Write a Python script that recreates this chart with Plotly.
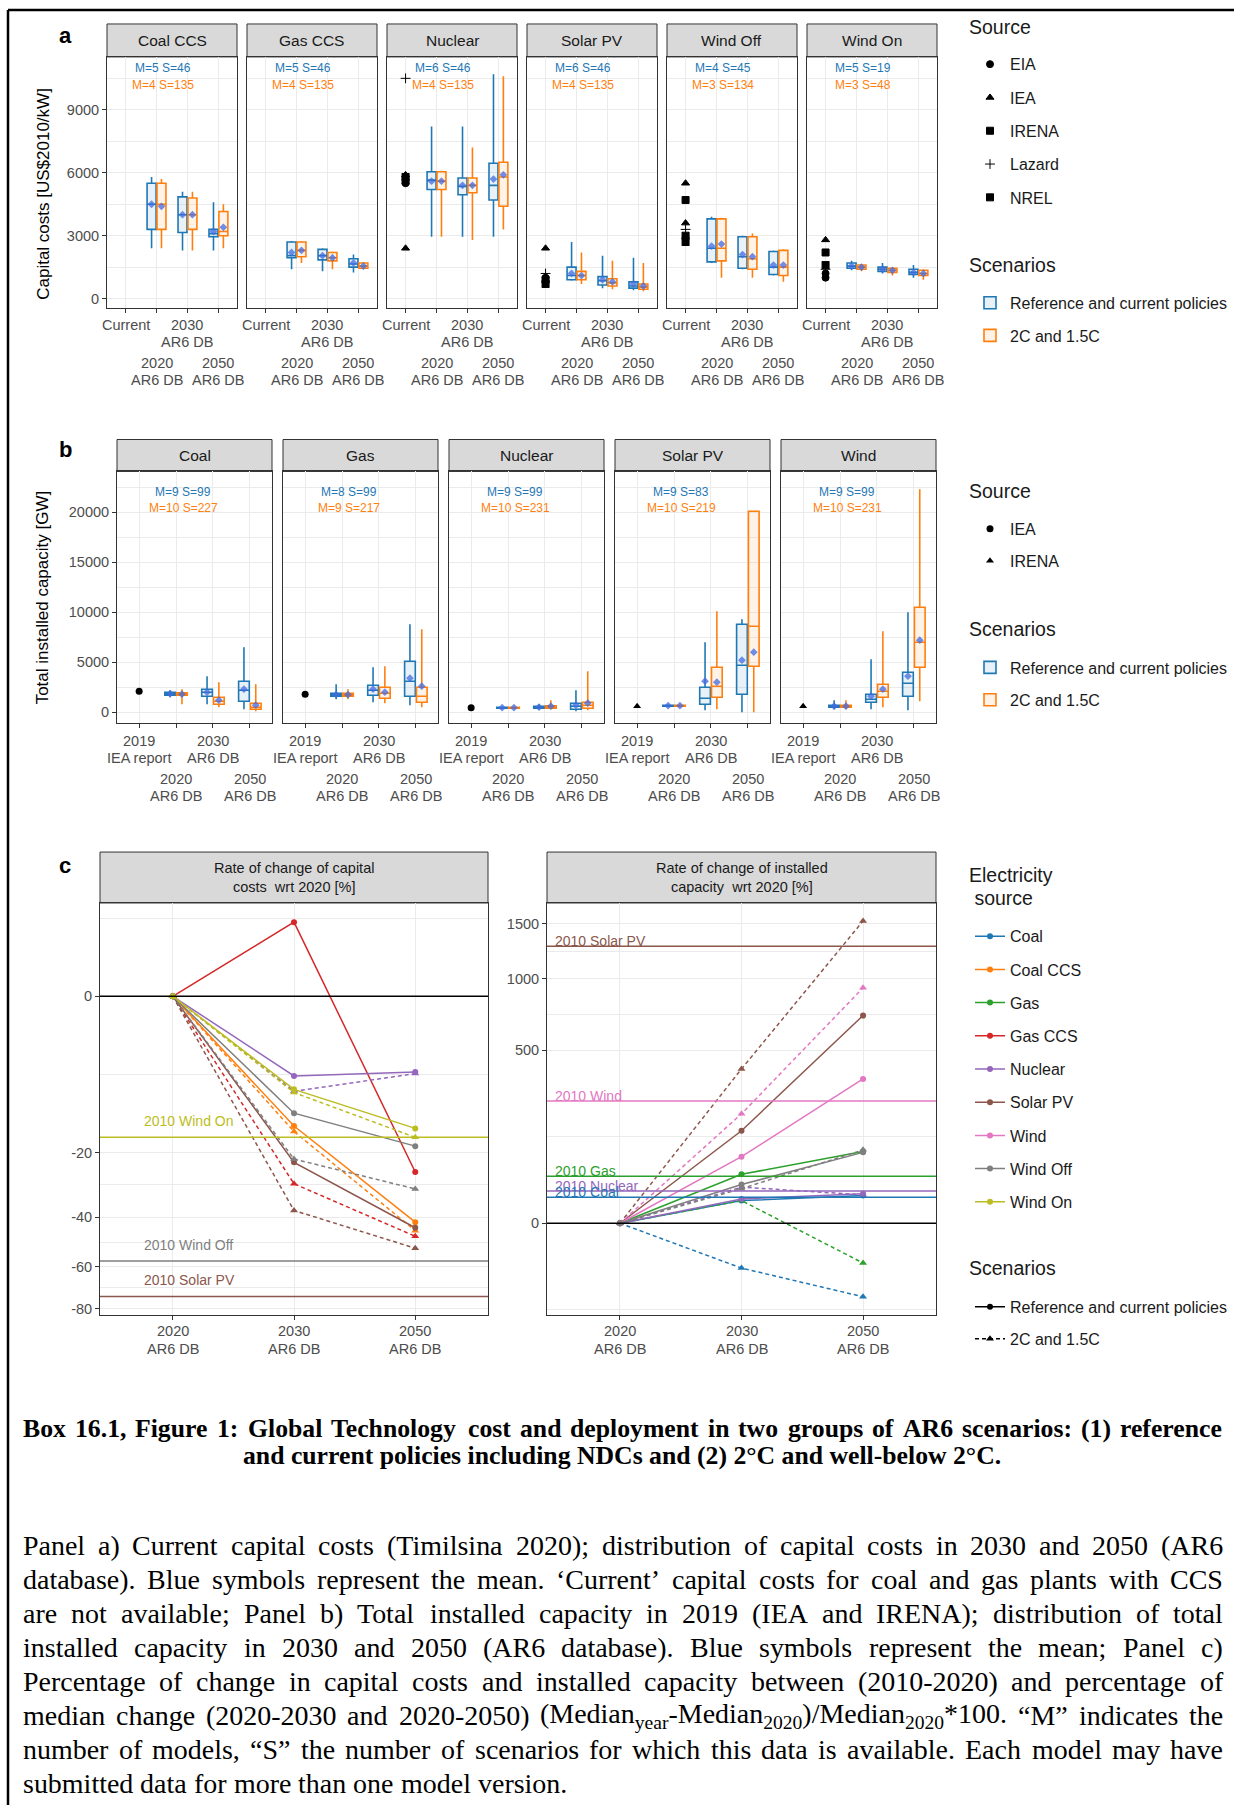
import math
import re
import plotly.graph_objects as go

W, H = 1234, 1807


def fx(p):
    return p / W


def fy(p):
    return 1 - p / H


FONT = "Liberation Sans, Arial, Helvetica, sans-serif"
SERIF = "Liberation Serif, Times New Roman, serif"
TICK_C = "#4D4D4D"
BORDER = "#333333"
GRID = "#EBEBEB"
STRIP = "#D9D9D9"
BLUE = "#1f77b4"
ORANGE = "#ff7f0e"
BLUE_FILL = "rgba(31,119,180,0.10)"
ORANGE_FILL = "rgba(255,127,14,0.10)"
MEAN_C = "#4169E1"

# ---------------------------------------------------------------- panel a data
a_techs = ["Coal CCS", "Gas CCS", "Nuclear", "Solar PV", "Wind Off", "Wind On"]
a_xlabels = ["Current", "2020\nAR6 DB", "2030\nAR6 DB", "2050\nAR6 DB"]
a_yticks = [0, 3000, 6000, 9000]
a_yminor = [1500, 4500, 7500, 10500]

a_ref_low = {"Coal CCS": [2400, 2300, 2300], "Gas CCS": [1400, 1300, 1250], "Nuclear": [2950, 2950, 2950],
             "Solar PV": [850, 500, 400], "Wind Off": [1700, 1400, 1100], "Wind On": [1350, 1200, 1000]}
a_ref_q1 = {"Coal CCS": [3300, 3150, 2950], "Gas CCS": [1950, 1850, 1500], "Nuclear": [5200, 4950, 4700],
            "Solar PV": [900, 650, 500], "Wind Off": [1750, 1450, 1150], "Wind On": [1450, 1300, 1150]}
a_ref_med = {"Coal CCS": [4500, 4000, 3100], "Gas CCS": [2050, 2050, 1650], "Nuclear": [5650, 5350, 5400],
             "Solar PV": [1100, 850, 600], "Wind Off": [2400, 2000, 1500], "Wind On": [1550, 1400, 1250]}
a_ref_q3 = {"Coal CCS": [5500, 4850, 3300], "Gas CCS": [2700, 2350, 1900], "Nuclear": [6050, 5750, 6450],
            "Solar PV": [1500, 1050, 800], "Wind Off": [3800, 2950, 2250], "Wind On": [1700, 1500, 1400]}
a_ref_high = {"Coal CCS": [5800, 5100, 4600], "Gas CCS": [2750, 2400, 2100], "Nuclear": [8200, 8200, 10700],
              "Solar PV": [2700, 2050, 1950], "Wind Off": [3900, 3000, 2300], "Wind On": [1800, 1700, 1600]}
a_ref_mean = {"Coal CCS": [4500, 4000, 3200], "Gas CCS": [2200, 2050, 1700], "Nuclear": [5600, 5400, 5700],
              "Solar PV": [1200, 900, 700], "Wind Off": [2500, 2100, 1600], "Wind On": [1550, 1400, 1250]}

a_pol_low = {"Coal CCS": [2400, 2300, 2400], "Gas CCS": [1700, 1400, 1400], "Nuclear": [2950, 2800, 3300],
             "Solar PV": [700, 450, 350], "Wind Off": [1000, 1000, 800], "Wind On": [1300, 1100, 900]}
a_pol_q1 = {"Coal CCS": [3300, 3300, 3000], "Gas CCS": [2000, 1800, 1450], "Nuclear": [5200, 5050, 4400],
            "Solar PV": [900, 600, 450], "Wind Off": [1800, 1400, 1100], "Wind On": [1400, 1250, 1100]}
a_pol_med = {"Coal CCS": [4500, 4000, 3200], "Gas CCS": [2300, 1950, 1550], "Nuclear": [5600, 5400, 5800],
             "Solar PV": [1100, 750, 550], "Wind Off": [2400, 1900, 1500], "Wind On": [1500, 1350, 1200]}
a_pol_q3 = {"Coal CCS": [5500, 4800, 4150], "Gas CCS": [2700, 2200, 1700], "Nuclear": [6050, 5750, 6500],
            "Solar PV": [1300, 950, 700], "Wind Off": [3800, 2950, 2300], "Wind On": [1600, 1450, 1350]}
a_pol_high = {"Coal CCS": [5700, 5100, 4500], "Gas CCS": [2750, 2250, 1750], "Nuclear": [6100, 7200, 10600],
              "Solar PV": [2200, 1800, 1700], "Wind Off": [3850, 3100, 2350], "Wind On": [1650, 1500, 1400]}
a_pol_mean = {"Coal CCS": [4400, 4000, 3400], "Gas CCS": [2300, 1950, 1550], "Nuclear": [5600, 5400, 5900],
              "Solar PV": [1100, 800, 600], "Wind Off": [2600, 2000, 1600], "Wind On": [1500, 1350, 1200]}

# 'Current' capital costs by source
a_sources = ["EIA", "IEA", "IRENA", "Lazard", "NREL"]
a_cur_EIA = {"Nuclear": [5500], "Solar PV": [1000, 800], "Wind Off": [2900], "Wind On": [1000, 1200]}
a_cur_IEA = {"Nuclear": [5900, 2400], "Solar PV": [2400], "Wind Off": [5500, 3600], "Wind On": [2800]}
a_cur_IRENA = {"Nuclear": [5600], "Solar PV": [900], "Wind Off": [4700], "Wind On": [2200]}
a_cur_Lazard = {"Nuclear": [10500], "Solar PV": [1200], "Wind Off": [3300], "Wind On": [1400]}
a_cur_NREL = {"Nuclear": [5800], "Solar PV": [700], "Wind Off": [2700, 3000], "Wind On": [1600]}
a_cur = {"EIA": a_cur_EIA, "IEA": a_cur_IEA, "IRENA": a_cur_IRENA, "Lazard": a_cur_Lazard, "NREL": a_cur_NREL}

a_ms_ref = ["M=5 S=46", "M=5 S=46", "M=6 S=46", "M=6 S=46", "M=4 S=45", "M=5 S=19"]
a_ms_pol = ["M=4 S=135", "M=4 S=135", "M=4 S=135", "M=4 S=135", "M=3 S=134", "M=3 S=48"]

# ---------------------------------------------------------------- panel b data
b_techs = ["Coal", "Gas", "Nuclear", "Solar PV", "Wind"]
b_xlabels = ["2019\nIEA report", "2020\nAR6 DB", "2030\nAR6 DB", "2050\nAR6 DB"]
b_yticks = [0, 5000, 10000, 15000, 20000]
b_yminor = [2500, 7500, 12500, 17500, 22500]
b_2019 = [2100, 1800, 450, 600, 600]
b_2019_source = ["IEA", "IEA", "IEA", "IRENA", "IRENA"]

b_ref_low = {"Coal": [1500, 800, 300], "Gas": [1300, 1000, 700], "Nuclear": [350, 300, 100],
             "Solar PV": [550, 200, 0], "Wind": [300, 300, 200]}
b_ref_q1 = {"Coal": [1700, 1600, 1100], "Gas": [1600, 1700, 1600], "Nuclear": [400, 400, 300],
            "Solar PV": [600, 800, 1800], "Wind": [500, 1000, 1600]}
b_ref_med = {"Coal": [1850, 2000, 2200], "Gas": [1750, 2200, 3100], "Nuclear": [450, 500, 600],
             "Solar PV": [650, 1400, 4700], "Wind": [600, 1300, 2900]}
b_ref_q3 = {"Coal": [2000, 2300, 3100], "Gas": [1900, 2700, 5100], "Nuclear": [500, 600, 900],
            "Solar PV": [700, 2500, 8800], "Wind": [700, 1800, 4000]}
b_ref_high = {"Coal": [2200, 3600, 6500], "Gas": [2800, 4500, 8800], "Nuclear": [550, 800, 2200],
              "Solar PV": [750, 7000, 9300], "Wind": [1200, 5300, 10000]}
b_ref_mean = {"Coal": [1850, 2000, 2300], "Gas": [1750, 2300, 3400], "Nuclear": [450, 500, 700],
              "Solar PV": [650, 3100, 5200], "Wind": [600, 1600, 3600]}

b_pol_low = {"Coal": [800, 500, 100], "Gas": [1300, 900, 500], "Nuclear": [350, 300, 200],
             "Solar PV": [550, 300, 0], "Wind": [300, 500, 1100]}
b_pol_q1 = {"Coal": [1700, 800, 300], "Gas": [1600, 1400, 1000], "Nuclear": [400, 400, 400],
            "Solar PV": [600, 1500, 4600], "Wind": [500, 1500, 4500]}
b_pol_med = {"Coal": [1800, 1100, 500], "Gas": [1750, 1900, 1600], "Nuclear": [450, 550, 700],
             "Solar PV": [650, 2600, 8600], "Wind": [600, 2100, 7000]}
b_pol_q3 = {"Coal": [1950, 1500, 900], "Gas": [1900, 2500, 2500], "Nuclear": [500, 650, 1000],
            "Solar PV": [700, 4500, 20100], "Wind": [700, 2800, 10500]}
b_pol_high = {"Coal": [2300, 3000, 2800], "Gas": [2300, 4600, 8300], "Nuclear": [550, 1200, 4100],
              "Solar PV": [750, 10100, 20100], "Wind": [1200, 8100, 22300]}
b_pol_mean = {"Coal": [1800, 1200, 700], "Gas": [1750, 2000, 2600], "Nuclear": [450, 600, 900],
              "Solar PV": [650, 3000, 6000], "Wind": [600, 2300, 7200]}

b_ms_ref = ["M=9 S=99", "M=8 S=99", "M=9 S=99", "M=9 S=83", "M=9 S=99"]
b_ms_pol = ["M=10 S=227", "M=9 S=217", "M=10 S=231", "M=10 S=219", "M=10 S=231"]

# ---------------------------------------------------------------- panel c data
c_xlabels = ["2020\nAR6 DB", "2030\nAR6 DB", "2050\nAR6 DB"]
c_sources = ["Coal", "Coal CCS", "Gas", "Gas CCS", "Nuclear", "Solar PV", "Wind", "Wind Off", "Wind On"]
c_colors = ["#1f77b4", "#ff7f0e", "#2ca02c", "#d62728", "#9467bd", "#8c564b", "#e377c2", "#7f7f7f", "#bcbd22"]

c_cost_ref = {"Coal CCS": [0, -13.8, -41.8], "Gas CCS": [0, 4.5, -25.3], "Nuclear": [0, -5.2, -4.7],
              "Solar PV": [0, -22.6, -43.9], "Wind Off": [0, -11.2, -18.4], "Wind On": [0, -7.1, -14.3]}
c_cost_pol = {"Coal CCS": [0, -15.0, -45.0], "Gas CCS": [0, -28.8, -47.2], "Nuclear": [0, -7.4, -4.9],
              "Solar PV": [0, -37.6, -52.0], "Wind Off": [0, -21.7, -30.4], "Wind On": [0, -7.6, -16.3]}
c_cost_2010 = {"Wind On": -16.3, "Wind Off": -57.4, "Solar PV": -73.8}
c_cost_yticks = [0, -20, -40, -60, -80]

c_cap_ref = {"Coal": [0, 8.6, 12.9], "Gas": [0, 40, 86], "Nuclear": [0, 9.9, 14.5],
             "Solar PV": [0, 143, 721], "Wind": [0, 74, 348], "Wind Off": [0, 25, 84]}
c_cap_pol = {"Coal": [0, -33.6, -90.3], "Gas": [0, 8.6, -26.4], "Nuclear": [0, 21.8, 13.5],
             "Solar PV": [0, 398, 1527], "Wind": [0, 200, 926], "Wind Off": [0, 20, 90]}
c_cap_2010 = {"Solar PV": 1282, "Wind": 250, "Gas": 37, "Nuclear": 17.3, "Coal": 11.4}
c_cap_yticks = [0, 500, 1000, 1500]

# ---------------------------------------------------------------- caption text
cap_bold = ["Box 16.1, Figure 1: Global Technology cost and deployment in two groups of AR6 scenarios: (1) reference",
            "and current policies including NDCs and (2) 2°C and well-below 2°C."]
cap_body = [
    "Panel a) Current capital costs (Timilsina 2020); distribution of capital costs in 2030 and 2050 (AR6",
    "database). Blue symbols represent the mean. ‘Current’ capital costs for coal and gas plants with CCS",
    "are not available; Panel b) Total installed capacity in 2019 (IEA and IRENA); distribution of total",
    "installed capacity in 2030 and 2050 (AR6 database). Blue symbols represent the mean; Panel c)",
    "Percentage of change in capital costs and installed capacity between (2010-2020) and percentage of",
    "median change (2020-2030 and 2020-2050) (Median<sub>year</sub>-Median<sub>2020</sub>)/Median<sub>2020</sub>*100. “M” indicates the",
    "number of models, “S” the number of scenarios for which this data is available. Each model may have",
    "submitted data for more than one model version.",
]

# ================================================================ helpers
SYMBOLS_A = {"EIA": "circle", "IEA": "triangle-up", "IRENA": "square", "Lazard": "cross-thin", "NREL": "square-x"}
SYMBOLS_B = {"IEA": "circle", "IRENA": "triangle-up"}


def ssqrt(v):
    return math.copysign(math.sqrt(abs(v)), v)


def axn(i):
    return ("x" if i == 1 else f"x{i}"), ("y" if i == 1 else f"y{i}")


def lkey(prefix, i):
    return prefix + ("" if i == 1 else str(i))


fig = go.Figure()
lay = {}
shapes = []
ann = []


def add_ann(**kw):
    d = dict(showarrow=False)
    d.update(kw)
    ann.append(d)


def strip(x0, x1, y0, y1, lines, size):
    shapes.append(dict(type="rect", xref="paper", yref="paper", x0=fx(x0), x1=fx(x1), y0=fy(y1), y1=fy(y0),
                       fillcolor=STRIP, line=dict(color=BORDER, width=1), layer="below"))
    add_ann(xref="paper", yref="paper", x=fx((x0 + x1) / 2), y=fy((y0 + y1) / 2), text="<br>".join(lines),
            xanchor="center", yanchor="middle", font=dict(size=size, color="#1A1A1A", family=FONT))


def base_xaxis(dom, rng, anchor, nt):
    return dict(domain=[fx(dom[0]), fx(dom[1])], range=rng, anchor=anchor, tickvals=list(range(nt)),
                showticklabels=False, ticks="outside", ticklen=4, tickcolor=BORDER, tickwidth=1,
                showgrid=True, gridcolor=GRID, gridwidth=1, showline=True, linecolor=BORDER, linewidth=1,
                mirror=True, zeroline=False, fixedrange=True)


def base_yaxis(dom, rng, anchor, tv, tt, minor, labels):
    return dict(domain=[fy(dom[1]), fy(dom[0])], range=rng, anchor=anchor, tickvals=tv, ticktext=tt,
                showticklabels=labels, ticks="outside" if labels else "", ticklen=4, tickcolor=BORDER,
                tickfont=dict(size=14.5, color=TICK_C, family=FONT),
                showgrid=True, gridcolor=GRID, gridwidth=1, showline=True, linecolor=BORDER, linewidth=1,
                mirror=True, zeroline=False, fixedrange=True,
                minor=dict(tickvals=minor, showgrid=True, gridcolor=GRID, gridwidth=0.5, ticks=""))


def xlabels(xa, labels, row1, row2, step):
    for i, lab in enumerate(labels):
        base = row1 if i % 2 == 0 else row2
        for j, ln in enumerate(lab.split("\n")):
            add_ann(xref=xa, yref="paper", x=i, y=fy(base + j * step), text=ln, xanchor="center",
                    yanchor="middle", font=dict(size=14.5, color=TICK_C, family=FONT))


OFF, BW = 0.16, 0.29


def boxes(xa, ya, stats, col, fill, off, name, legend, lgroup, show):
    low, q1, med, q3, high, mean = stats
    xs = [i + 1 + off for i in range(len(med))]
    fig.add_trace(go.Box(x=xs, q1=q1, median=med, q3=q3, lowerfence=low, upperfence=high, width=BW,
                         line=dict(color=col, width=1.6), fillcolor=fill, whiskerwidth=0, boxpoints=False,
                         name=name, legend=legend, legendgroup=lgroup, showlegend=show,
                         xaxis=xa, yaxis=ya, hoverinfo="skip"))
    fig.add_trace(go.Scatter(x=xs, y=mean, mode="markers", showlegend=False, hoverinfo="skip",
                             marker=dict(symbol="diamond", size=6, color=MEAN_C, opacity=0.75),
                             xaxis=xa, yaxis=ya))


# ================================================================ panel a
A_L0, A_W, A_STEP = 107, 130, 140
A_STRIP, A_TOP, A_BOT = 24, 57, 308
a_range = [-430, 11520]
shown = set()
for k, tech in enumerate(a_techs):
    idx = k + 1
    xa, ya = axn(idx)
    xl = A_L0 + k * A_STEP
    lay[lkey("xaxis", idx)] = base_xaxis((xl, xl + A_W), [-0.6, 3.6], ya, 4)
    lay[lkey("yaxis", idx)] = base_yaxis((A_TOP, A_BOT), a_range, xa, a_yticks, [str(v) for v in a_yticks],
                                         a_yminor, k == 0)
    strip(xl, xl + A_W, A_STRIP, A_TOP, [tech], 15.5)
    ref = [d[tech] for d in (a_ref_low, a_ref_q1, a_ref_med, a_ref_q3, a_ref_high, a_ref_mean)]
    pol = [d[tech] for d in (a_pol_low, a_pol_q1, a_pol_med, a_pol_q3, a_pol_high, a_pol_mean)]
    boxes(xa, ya, ref, BLUE, BLUE_FILL, -OFF, "Reference and current policies", "legend2", "a_ref", k == 0)
    boxes(xa, ya, pol, ORANGE, ORANGE_FILL, OFF, "2C and 1.5C", "legend2", "a_pol", k == 0)
    for src in a_sources:
        vals = a_cur[src].get(tech)
        if not vals:
            continue
        fig.add_trace(go.Scatter(x=[0] * len(vals), y=vals, mode="markers", name=src, legend="legend",
                                 legendgroup="a_" + src, showlegend=src not in shown, hoverinfo="skip",
                                 marker=dict(symbol=SYMBOLS_A[src], size=7, color="black",
                                             line=dict(color="black", width=1)),
                                 xaxis=xa, yaxis=ya))
        shown.add(src)
    add_ann(xref=xa, yref=ya, x=1.2, y=11000, text=a_ms_ref[k], xanchor="center", yanchor="middle",
            font=dict(size=12, color=BLUE, family=FONT))
    add_ann(xref=xa, yref=ya, x=1.2, y=10180, text=a_ms_pol[k], xanchor="center", yanchor="middle",
            font=dict(size=12, color=ORANGE, family=FONT))
    xlabels(xa, a_xlabels, 325, 363, 17.5)

# ================================================================ panel b
B_L0, B_W, B_STEP = 117, 155, 166
B_STRIP, B_TOP, B_BOT = 440, 472, 724
b_range = [-1100, 24070]
shown = set()
for k, tech in enumerate(b_techs):
    idx = 7 + k
    xa, ya = axn(idx)
    xl = B_L0 + k * B_STEP
    lay[lkey("xaxis", idx)] = base_xaxis((xl, xl + B_W), [-0.6, 3.6], ya, 4)
    lay[lkey("yaxis", idx)] = base_yaxis((B_TOP, B_BOT), b_range, xa, b_yticks, [str(v) for v in b_yticks],
                                         b_yminor, k == 0)
    strip(xl, xl + B_W, B_STRIP, B_TOP, [tech], 15.5)
    ref = [d[tech] for d in (b_ref_low, b_ref_q1, b_ref_med, b_ref_q3, b_ref_high, b_ref_mean)]
    pol = [d[tech] for d in (b_pol_low, b_pol_q1, b_pol_med, b_pol_q3, b_pol_high, b_pol_mean)]
    boxes(xa, ya, ref, BLUE, BLUE_FILL, -OFF, "Reference and current policies", "legend4", "b_ref", k == 0)
    boxes(xa, ya, pol, ORANGE, ORANGE_FILL, OFF, "2C and 1.5C", "legend4", "b_pol", k == 0)
    src = b_2019_source[k]
    fig.add_trace(go.Scatter(x=[0], y=[b_2019[k]], mode="markers", name=src, legend="legend3",
                             legendgroup="b_" + src, showlegend=src not in shown, hoverinfo="skip",
                             marker=dict(symbol=SYMBOLS_B[src], size=7, color="black"), xaxis=xa, yaxis=ya))
    shown.add(src)
    add_ann(xref=xa, yref=ya, x=1.2, y=22000, text=b_ms_ref[k], xanchor="center", yanchor="middle",
            font=dict(size=12, color=BLUE, family=FONT))
    add_ann(xref=xa, yref=ya, x=1.2, y=20450, text=b_ms_pol[k], xanchor="center", yanchor="middle",
            font=dict(size=12, color=ORANGE, family=FONT))
    xlabels(xa, b_xlabels, 742, 780, 16.5)

# ================================================================ panel c
C_STRIP, C_TOP, C_BOT = 853, 904, 1316
color_of = dict(zip(c_sources, c_colors))


def mids(vals):
    s = sorted(vals)
    return [(s[i] + s[i + 1]) / 2 for i in range(len(s) - 1)]


panels_c = [
    (12, (100, 488), [-9.11, 2.67], c_cost_yticks, c_cost_ref, c_cost_pol, c_cost_2010,
     ["Rate of change of capital", "costs  wrt 2020 [%]"], -0.25, 16),
    (13, (547, 936), [-11.8, 41.4], c_cap_yticks, c_cap_ref, c_cap_pol, c_cap_2010,
     ["Rate of change of installed", "capacity  wrt 2020 [%]"], -0.55, 5),
]
for idx, dom, rng, yt, dref, dpol, d2010, title, lab_x, lab_shift in panels_c:
    xa, ya = axn(idx)
    tv = [ssqrt(v) for v in yt]
    step = tv[1] - tv[0]
    minor = mids(tv) + [tv[0] + step / 2, tv[0] - step / 2]
    lay[lkey("xaxis", idx)] = base_xaxis(dom, [-0.6, 2.6], ya, 3)
    lay[lkey("yaxis", idx)] = base_yaxis((C_TOP, C_BOT), rng, xa, tv, [str(v) for v in yt], minor, True)
    strip(dom[0], dom[1], C_STRIP, C_TOP, title, 14.5)
    for src, v in d2010.items():
        shapes.append(dict(type="line", xref=f"{xa} domain", yref=ya, x0=0, x1=1, y0=ssqrt(v), y1=ssqrt(v),
                           line=dict(color=color_of[src], width=1.5)))
        add_ann(xref=xa, yref=ya, x=lab_x, y=ssqrt(v), yshift=lab_shift, text="2010 " + src,
                xanchor="left", yanchor="middle", font=dict(size=14, color=color_of[src], family=FONT))
    shapes.append(dict(type="line", xref=f"{xa} domain", yref=ya, x0=0, x1=1, y0=0, y1=0,
                       line=dict(color="black", width=1.5)))
    for src in c_sources:
        if src in dpol:
            fig.add_trace(go.Scatter(x=[0, 1, 2], y=[ssqrt(v) for v in dpol[src]], mode="lines+markers",
                                     line=dict(color=color_of[src], width=1.5, dash="4px,3px"),
                                     marker=dict(symbol="triangle-up", size=7, color=color_of[src]),
                                     showlegend=False, hoverinfo="skip", xaxis=xa, yaxis=ya))
        if src in dref:
            fig.add_trace(go.Scatter(x=[0, 1, 2], y=[ssqrt(v) for v in dref[src]], mode="lines+markers",
                                     line=dict(color=color_of[src], width=1.5),
                                     marker=dict(symbol="circle", size=6, color=color_of[src]),
                                     showlegend=False, hoverinfo="skip", xaxis=xa, yaxis=ya))
    for i, lab in enumerate(c_xlabels):
        for j, ln in enumerate(lab.split("\n")):
            add_ann(xref=xa, yref="paper", x=i, y=fy(1332 + j * 18.5), text=ln, xanchor="center",
                    yanchor="middle", font=dict(size=14.5, color=TICK_C, family=FONT))

# legend-only entries for panel c
for src in c_sources:
    fig.add_trace(go.Scatter(x=[None], y=[None], mode="lines+markers", name=src, legend="legend5",
                             legendgroup="c_" + src, line=dict(color=color_of[src], width=1.5),
                             marker=dict(symbol="circle", size=6, color=color_of[src]),
                             xaxis="x12", yaxis="y12"))
fig.add_trace(go.Scatter(x=[None], y=[None], mode="lines+markers", name="Reference and current policies",
                         legend="legend6", legendgroup="c_ref", line=dict(color="black", width=1.5),
                         marker=dict(symbol="circle", size=6, color="black"), xaxis="x12", yaxis="y12"))
fig.add_trace(go.Scatter(x=[None], y=[None], mode="lines+markers", name="2C and 1.5C",
                         legend="legend6", legendgroup="c_pol",
                         line=dict(color="black", width=1.5, dash="4px,3px"),
                         marker=dict(symbol="triangle-up", size=7, color="black"), xaxis="x12", yaxis="y12"))

# ================================================================ titles / labels
for t, (x, y) in zip(["a", "b", "c"], [(65, 36), (65, 450), (65, 866)]):
    add_ann(xref="paper", yref="paper", x=fx(x), y=fy(y), text=f"<b>{t}</b>", xanchor="center",
            yanchor="middle", font=dict(size=22, color="black", family=FONT))
add_ann(xref="paper", yref="paper", x=fx(44), y=fy(194), text="Capital costs [US$2010/kW]", textangle=-90,
        xanchor="center", yanchor="middle", font=dict(size=17, color="black", family=FONT))
add_ann(xref="paper", yref="paper", x=fx(42), y=fy(598), text="Total installed capacity [GW]", textangle=-90,
        xanchor="center", yanchor="middle", font=dict(size=17, color="black", family=FONT))

# legend titles
for txt, y in [("Source", 26.7), ("Scenarios", 265), ("Source", 491.7), ("Scenarios", 630),
               ("Electricity", 875.6), (" source", 899), ("Scenarios", 1269.5)]:
    add_ann(xref="paper", yref="paper", x=fx(967), y=fy(y), text=txt, xanchor="left", yanchor="middle",
            font=dict(size=19.5, color="#1A1A1A", family=FONT))

# frame
shapes.append(dict(type="line", xref="paper", yref="paper", x0=fx(8), x1=1, y0=fy(10), y1=fy(10),
                   line=dict(color="black", width=2.5)))
shapes.append(dict(type="line", xref="paper", yref="paper", x0=fx(8), x1=fx(8), y0=fy(10), y1=0,
                   line=dict(color="black", width=2.5)))

# ================================================================ caption (justified)
TNR = {c: w for c, w in zip("abcdefghijklmnopqrstuvwxyz",
                             [444, 500, 444, 500, 444, 333, 500, 500, 278, 278, 500, 278, 778, 500, 500, 500,
                              500, 333, 389, 278, 500, 500, 722, 500, 500, 444])}
TNR.update({c: w for c, w in zip("ABCDEFGHIJKLMNOPQRSTUVWXYZ",
                                  [722, 667, 667, 722, 611, 556, 722, 722, 333, 389, 722, 611, 889, 722, 722,
                                   556, 722, 667, 556, 611, 722, 722, 944, 722, 722, 611])})
TNR.update({c: 500 for c in "0123456789"})
TNR.update({" ": 250, ".": 250, ",": 250, ";": 278, ":": 278, "(": 333, ")": 333, "-": 333, "/": 278,
            "*": 500, "‘": 333, "’": 333, "“": 444, "”": 444, "°": 400})
TNRB = {c: w for c, w in zip("abcdefghijklmnopqrstuvwxyz",
                              [500, 556, 444, 556, 444, 333, 500, 556, 278, 333, 556, 278, 833, 556, 500, 556,
                               556, 444, 389, 333, 556, 500, 722, 500, 500, 444])}
TNRB.update({c: w for c, w in zip("ABCDEFGHIJKLMNOPQRSTUVWXYZ",
                                   [722, 667, 722, 722, 667, 611, 778, 778, 389, 500, 778, 667, 944, 722, 778,
                                    611, 778, 722, 556, 667, 722, 722, 1000, 722, 722, 667])})
TNRB.update({c: 500 for c in "0123456789"})
TNRB.update({" ": 250, ".": 250, ",": 250, ";": 333, ":": 333, "(": 333, ")": 333, "-": 333, "°": 400})


def tw(s, table):
    total = 0.0
    for p in re.split(r"(<sub>.*?</sub>)", s):
        if p.startswith("<sub>"):
            total += 0.7 * sum(table.get(c, 500) for c in p[5:-6])
        else:
            total += sum(table.get(c, 500) for c in p)
    return total / 1000.0


X_L, X_R = 22, 1222
LW = X_R - X_L


def justify(line, table, fs, y, bold, last=False):
    words = line.split(" ")
    widths = [tw(w, table) * fs for w in words]
    gap = table[" "] / 1000.0 * fs if last else (LW - sum(widths)) / (len(words) - 1)
    x = X_L
    for w, wd in zip(words, widths):
        txt = f"<b>{w}</b>" if bold else w
        add_ann(xref="paper", yref="paper", x=fx(x), y=fy(y), text=txt, xanchor="left", yanchor="middle",
                borderpad=0, font=dict(size=fs, color="black", family=SERIF))
        x += wd + gap


fs_bold = 0.965 * LW / tw(cap_bold[0], TNRB)
justify(cap_bold[0], TNRB, fs_bold, 1430, True)
add_ann(xref="paper", yref="paper", x=fx((X_L + X_R) / 2), y=fy(1457), text=f"<b>{cap_bold[1]}</b>",
        xanchor="center", yanchor="middle", font=dict(size=fs_bold, color="black", family=SERIF))
fs_body = 0.975 * LW / max(tw(l, TNR) for l in cap_body[:-1])
for i, line in enumerate(cap_body):
    justify(line, TNR, fs_body, 1547 + 34 * i, False, last=(i == len(cap_body) - 1))


# ================================================================ legends
def legend(y_top, gap):
    return dict(x=fx(970), y=fy(y_top), xanchor="left", yanchor="top", bgcolor="rgba(0,0,0,0)",
                traceorder="grouped", tracegroupgap=gap, itemsizing="trace",
                font=dict(size=16, family=FONT, color="#1A1A1A"))


lay["legend"] = legend(47.3, 9.5)
lay["legend2"] = legend(286.2, 8.8)
lay["legend3"] = legend(512.5, 8.2)
lay["legend4"] = legend(651.2, 8.5)
lay["legend5"] = legend(920.3, 9.4)
lay["legend6"] = legend(1291.2, 8.3)

fig.update_layout(width=W, height=H, autosize=False, margin=dict(l=0, r=0, t=0, b=0),
                  paper_bgcolor="white", plot_bgcolor="white", hovermode=False,
                  font=dict(family=FONT), shapes=shapes, annotations=ann, **lay)

fig.write_html("out.html", config={"displayModeBar": False},
               post_script="document.body.style.margin='0px';document.body.style.overflow='hidden';")
